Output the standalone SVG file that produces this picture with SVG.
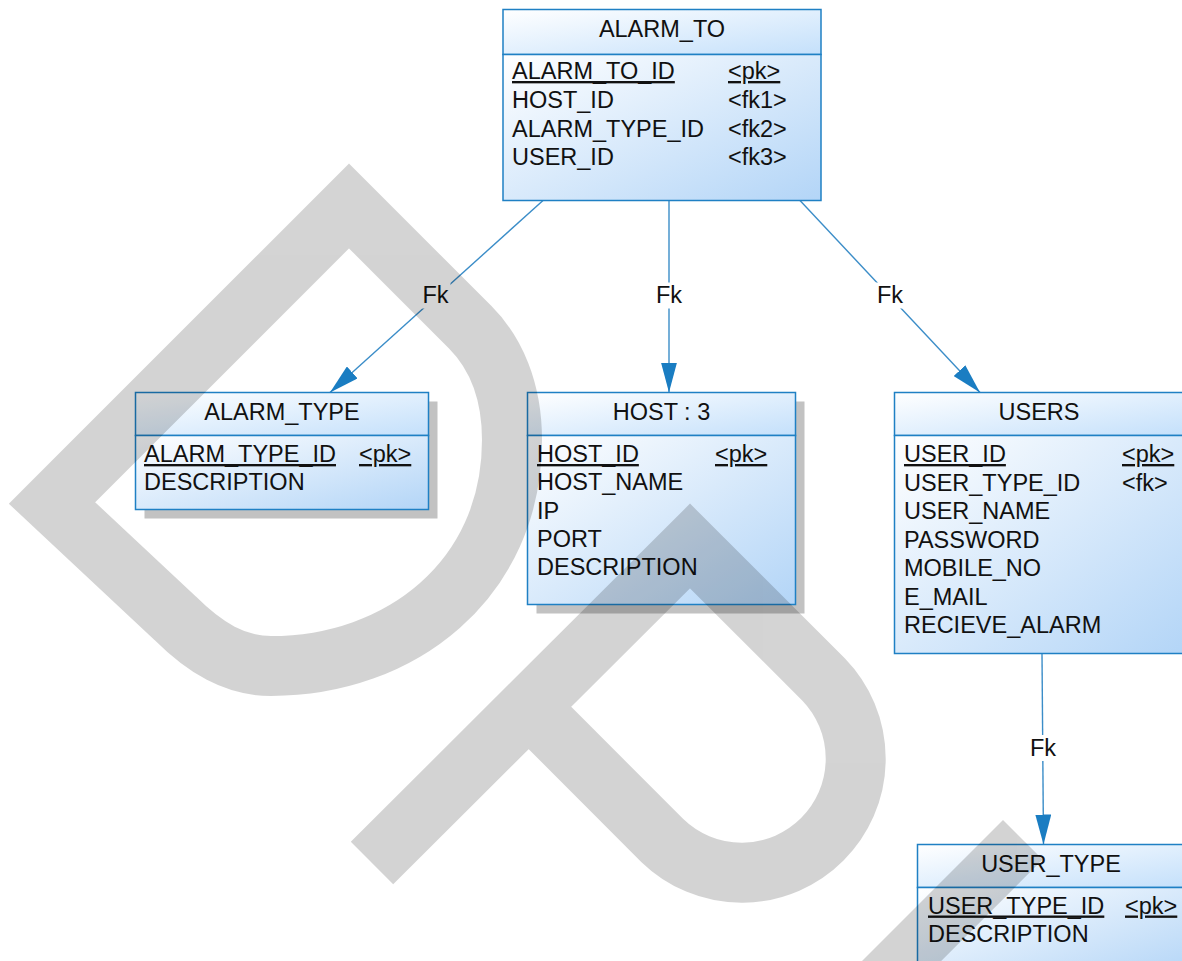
<svg xmlns="http://www.w3.org/2000/svg" width="1182" height="961" viewBox="0 0 1182 961">
<defs>
<linearGradient id="hg" x1="0" y1="0" x2="1" y2="1"><stop offset="0" stop-color="#ffffff"/><stop offset="1" stop-color="#c4e0fb"/></linearGradient>
<linearGradient id="bg" x1="0" y1="0" x2="1" y2="1"><stop offset="0" stop-color="#ffffff"/><stop offset="1" stop-color="#b3d5f7"/></linearGradient>
<marker id="arr" markerUnits="userSpaceOnUse" markerWidth="30" markerHeight="16" refX="30" refY="8" orient="auto" viewBox="0 0 30 16"><path d="M0,0 L30,8 L0,16 Z" fill="#1a7dc2"/></marker>
<style>
.box{stroke:#1f80c4;stroke-width:1.5}
.hd{fill:url(#hg)}
.bd{fill:url(#bg)}
.sh{fill:#c2c2c2}
text{font-family:"Liberation Sans",Arial,sans-serif;font-size:23.5px;fill:#111}
.t{text-anchor:middle}
.u{text-decoration:underline}
.con{stroke:#3b8dc8;stroke-width:1.4;fill:none}
.lb{fill:#ffffff}
</style>
</defs>
<rect width="1182" height="961" fill="#ffffff"/>

<g id="connectors">
<line class="con" x1="543" y1="200.5" x2="330" y2="392.5" marker-end="url(#arr)"/>
<line class="con" x1="669" y1="200.5" x2="669" y2="392.5" marker-end="url(#arr)"/>
<line class="con" x1="800" y1="200.5" x2="980" y2="392.5" marker-end="url(#arr)"/>
<line class="con" x1="1042" y1="653.5" x2="1043.5" y2="844.5" marker-end="url(#arr)"/>
<rect class="lb" x="420.5" y="282.5" width="30" height="26"/>
<rect class="lb" x="654" y="282.5" width="30" height="26"/>
<rect class="lb" x="875" y="282.5" width="30" height="26"/>
<rect class="lb" x="1028" y="735" width="30" height="26"/>
<text class="t" x="435.5" y="303">Fk</text>
<text class="t" x="669" y="303">Fk</text>
<text class="t" x="890" y="303">Fk</text>
<text class="t" x="1043" y="755.5">Fk</text>
</g>

<g id="ALARM_TO">
<rect class="box hd" x="503" y="9.5" width="318" height="45"/>
<rect class="box bd" x="503" y="54.5" width="318" height="146"/>
<text class="t" x="662" y="37">ALARM_TO</text>
<text class="u" x="512" y="79">ALARM_TO_ID</text><text class="u" x="728" y="79">&lt;pk&gt;</text>
<text x="512" y="108">HOST_ID</text><text x="728" y="108">&lt;fk1&gt;</text>
<text x="512" y="136.5">ALARM_TYPE_ID</text><text x="728" y="136.5">&lt;fk2&gt;</text>
<text x="512" y="165">USER_ID</text><text x="728" y="165">&lt;fk3&gt;</text>
</g>

<g id="ALARM_TYPE">
<rect class="sh" x="144.5" y="401.5" width="293" height="117"/>
<rect class="box hd" x="135.5" y="392.5" width="293" height="43"/>
<rect class="box bd" x="135.5" y="435.5" width="293" height="74"/>
<text class="t" x="282" y="419.5">ALARM_TYPE</text>
<text class="u" x="144" y="462">ALARM_TYPE_ID</text><text class="u" x="359" y="462">&lt;pk&gt;</text>
<text x="144" y="490">DESCRIPTION</text>
</g>

<g id="HOST">
<rect class="sh" x="536.5" y="401.5" width="268" height="212"/>
<rect class="box hd" x="527.5" y="392.5" width="268" height="43"/>
<rect class="box bd" x="527.5" y="435.5" width="268" height="169"/>
<text class="t" x="661.5" y="419.5">HOST : 3</text>
<text class="u" x="537" y="462">HOST_ID</text><text class="u" x="715" y="462">&lt;pk&gt;</text>
<text x="537" y="490.3">HOST_NAME</text>
<text x="537" y="518.7">IP</text>
<text x="537" y="547">PORT</text>
<text x="537" y="575.3">DESCRIPTION</text>
</g>

<g id="USERS">
<rect class="box hd" x="894.5" y="392.5" width="290" height="43"/>
<rect class="box bd" x="894.5" y="435.5" width="290" height="218"/>
<text class="t" x="1039" y="419.5">USERS</text>
<text class="u" x="904" y="462">USER_ID</text><text class="u" x="1122" y="462">&lt;pk&gt;</text>
<text x="904" y="490.5">USER_TYPE_ID</text><text x="1122" y="490.5">&lt;fk&gt;</text>
<text x="904" y="519">USER_NAME</text>
<text x="904" y="547.5">PASSWORD</text>
<text x="904" y="576">MOBILE_NO</text>
<text x="904" y="604.5">E_MAIL</text>
<text x="904" y="633">RECIEVE_ALARM</text>
</g>

<g id="USER_TYPE">
<rect class="box hd" x="917.5" y="844.5" width="268" height="43"/>
<rect class="box bd" x="917.5" y="887.5" width="268" height="90"/>
<text class="t" x="1051" y="871.5">USER_TYPE</text>
<text class="u" x="928" y="913.5">USER_TYPE_ID</text><text class="u" x="1125" y="913.5">&lt;pk&gt;</text>
<text x="928" y="941.5">DESCRIPTION</text>
</g>

<g id="watermark" opacity="0.17" fill="none" stroke="#000000" stroke-width="60" stroke-linejoin="miter" stroke-linecap="butt">
<path d="M52,503 L349,206 L470,327 C495,352 512,390 512,440 C512,580 400,666 271,666 C235,666 205,648 175,618 Z"/>
<path d="M372,863 L690,546 L823.6,679.4 A114,114 0 0 1 662.4,840.6 L528.5,706.5"/>
<path d="M1022.8,839.8 L870,992.6" stroke-width="56"/>
</g>
</svg>
